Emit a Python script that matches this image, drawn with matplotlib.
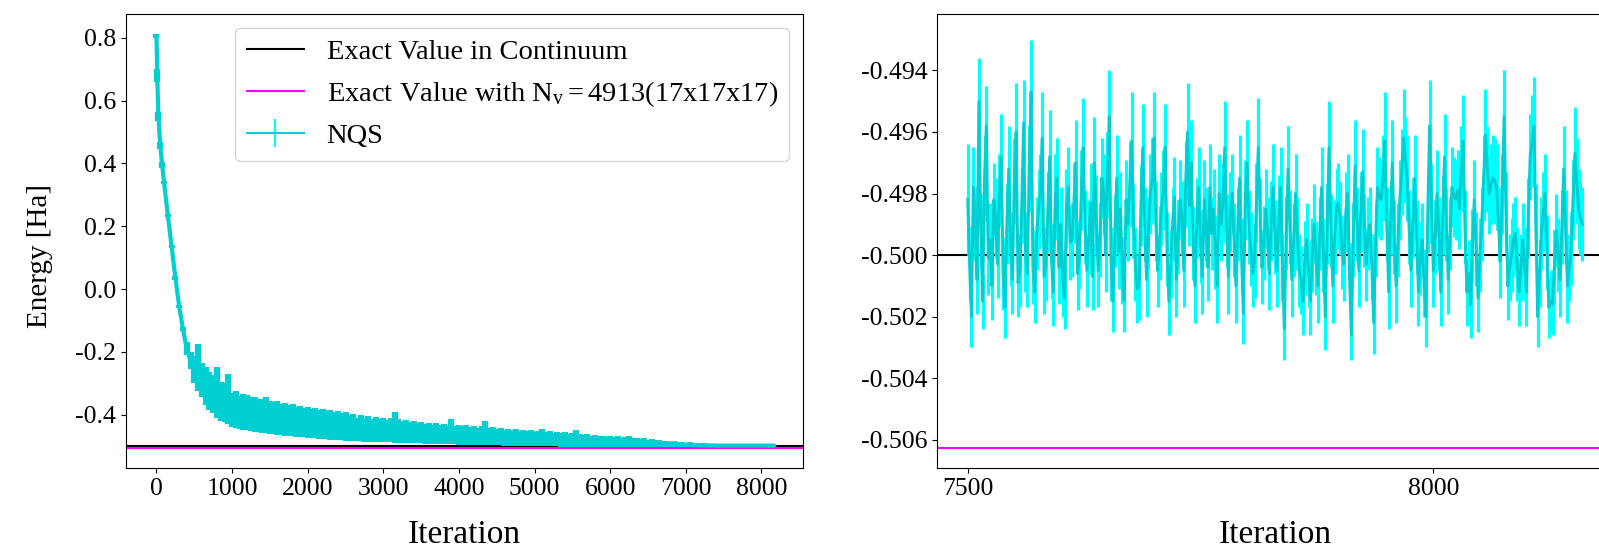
import numpy as np
import matplotlib
matplotlib.use('Agg')
import matplotlib.pyplot as plt
from matplotlib.ticker import FormatStrFormatter

plt.rcParams['font.family'] = ['Liberation Serif', 'DejaVu Serif']
plt.rcParams['mathtext.fontset'] = 'custom'
plt.rcParams['mathtext.rm'] = 'Liberation Serif'
plt.rcParams['mathtext.it'] = 'Liberation Serif:italic'
plt.rcParams['axes.unicode_minus'] = False

# exact reference energies
e_continuum = -0.5
e_grid = -0.50626

# left panel: NQS energy band (upper / lower edge) over the whole run
left_iter = [0, 10, 25, 50, 75] + list(range(100, 8151, 50))
left_upper = [
    0.812, 0.700, 0.565, 0.470, 0.405,
    0.345, 0.240, 0.140, 0.040, -0.050, -0.120, -0.170, -0.200,
    -0.215, -0.175, -0.235, -0.250, -0.265, -0.275, -0.250, -0.295, -0.300, -0.270,
    -0.330, -0.325, -0.340, -0.335, -0.338, -0.345, -0.345, -0.350, -0.352, -0.345,
    -0.358, -0.360, -0.358, -0.365, -0.362, -0.370, -0.368, -0.375, -0.372, -0.380,
    -0.376, -0.382, -0.378, -0.385, -0.383, -0.388, -0.385, -0.392, -0.390, -0.395,
    -0.393, -0.400, -0.398, -0.410, -0.403, -0.412, -0.405, -0.413, -0.408, -0.415,
    -0.410, -0.418, -0.412, -0.392, -0.415, -0.422, -0.418, -0.425, -0.420, -0.428,
    -0.424, -0.430, -0.426, -0.432, -0.428, -0.434, -0.430, -0.435, -0.413, -0.436,
    -0.432, -0.438, -0.434, -0.440, -0.436, -0.442, -0.438, -0.422, -0.444, -0.440,
    -0.446, -0.443, -0.448, -0.445, -0.450, -0.447, -0.452, -0.449, -0.453, -0.450,
    -0.455, -0.452, -0.447, -0.456, -0.453, -0.458, -0.455, -0.460, -0.457, -0.462,
    -0.458, -0.450, -0.462, -0.465, -0.463, -0.467, -0.465, -0.469, -0.467, -0.471,
    -0.468, -0.472, -0.470, -0.474, -0.471, -0.468, -0.476, -0.474, -0.478, -0.476,
    -0.480, -0.478, -0.482, -0.480, -0.484, -0.483, -0.486, -0.485, -0.488, -0.487,
    -0.490, -0.489, -0.491, -0.490, -0.492, -0.492, -0.493, -0.493, -0.494, -0.494,
    -0.495, -0.494, -0.495, -0.494, -0.495, -0.494, -0.495, -0.494, -0.495, -0.494,
    -0.495, -0.494, -0.495, -0.495,
]
left_lower = [
    0.800, 0.660, 0.535, 0.445, 0.385,
    0.335, 0.230, 0.130, 0.030, -0.060, -0.135, -0.210, -0.255,
    -0.300, -0.325, -0.345, -0.370, -0.385, -0.395, -0.410, -0.420, -0.425, -0.430,
    -0.440, -0.442, -0.445, -0.448, -0.450, -0.452, -0.455, -0.457, -0.458, -0.460,
    -0.462, -0.463, -0.464, -0.465, -0.467, -0.468, -0.470, -0.471, -0.472, -0.473,
    -0.474, -0.475, -0.476, -0.477, -0.478, -0.479, -0.480, -0.481, -0.482, -0.482,
    -0.483, -0.484, -0.484, -0.485, -0.485, -0.486, -0.486, -0.487, -0.487, -0.488,
    -0.488, -0.489, -0.489, -0.490, -0.490, -0.490, -0.491, -0.491, -0.492, -0.492,
    -0.492, -0.493, -0.493, -0.493, -0.494, -0.494, -0.494, -0.495, -0.495, -0.495,
    -0.496, -0.496, -0.496, -0.496, -0.497, -0.497, -0.497, -0.497, -0.498, -0.498,
    -0.498, -0.498, -0.499, -0.499, -0.499, -0.499, -0.499, -0.500, -0.500, -0.500,
    -0.500, -0.500, -0.501, -0.501, -0.501, -0.501, -0.501, -0.502, -0.502, -0.502,
    -0.502, -0.502, -0.503, -0.503, -0.503, -0.503, -0.503, -0.503, -0.503, -0.504,
    -0.504, -0.504, -0.504, -0.504, -0.504, -0.504, -0.504, -0.505, -0.505, -0.505,
    -0.505, -0.505, -0.505, -0.505, -0.505, -0.504, -0.504, -0.504, -0.504, -0.504,
    -0.504, -0.504, -0.504, -0.504, -0.504, -0.504, -0.504, -0.504, -0.504, -0.504,
    -0.503, -0.504, -0.503, -0.504, -0.503, -0.504, -0.503, -0.504, -0.503, -0.504,
    -0.503, -0.504, -0.503, -0.503,
]

# right panel: last iterations, mean energy and its error
# even samples at 7500, 7504, ..., 8160 ; odd samples at 7502, 7506, ..., 8158
right_iter = list(range(7500, 8161, 2))
right_mean_even = [
    -0.4982, -0.5020, -0.4990, -0.4950, -0.5015, -0.4958, -0.4995, -0.4982, -0.5003, -0.4968,
    -0.5017, -0.4972, -0.5008, -0.4960, -0.5005, -0.4957, -0.5006, -0.4947, -0.5012, -0.4985,
    -0.4962, -0.5003, -0.4968, -0.5012, -0.4975, -0.4990, -0.5014, -0.4978, -0.4995, -0.4970,
    -0.5000, -0.4965, -0.5005, -0.4983, -0.4970, -0.5005, -0.4975, -0.5000, -0.4955, -0.5015,
    -0.4975, -0.4985, -0.5015, -0.4990, -0.4963, -0.5003, -0.5010, -0.4965, -0.5008, -0.4980,
    -0.4962, -0.5005, -0.4985, -0.4965, -0.5015, -0.4990, -0.5008, -0.4982, -0.5005, -0.4960,
    -0.4970, -0.5010, -0.4978, -0.5007, -0.4990, -0.4978, -0.4985, -0.5010, -0.4990, -0.4965,
    -0.5007, -0.4980, -0.5010, -0.4975, -0.5019, -0.4970, -0.4998, -0.5002, -0.4965, -0.5004,
    -0.4985, -0.5006, -0.4978, -0.5005, -0.4978, -0.5024, -0.4972, -0.5008, -0.4980, -0.5005,
    -0.5015, -0.4995, -0.5015, -0.4990, -0.5010, -0.4978, -0.5020, -0.4965, -0.5010, -0.4985,
    -0.4988, -0.5003, -0.4980, -0.5026, -0.4971, -0.5005, -0.4973, -0.5003, -0.4990, -0.5022,
    -0.4978, -0.4982, -0.4963, -0.5012, -0.4970, -0.5010, -0.4982, -0.4962, -0.4975, -0.5005,
    -0.4975, -0.5012, -0.4995, -0.5020, -0.4958, -0.5005, -0.4980, -0.5012, -0.4968, -0.5008,
    -0.4978, -0.4982, -0.4985, -0.4963, -0.5012, -0.5016, -0.4982, -0.5014, -0.4990, -0.4961,
    -0.4980, -0.4975, -0.4978, -0.5002, -0.4955, -0.5010, -0.5000, -0.4993, -0.5012, -0.4995,
    -0.5012, -0.4968, -0.4958, -0.5020, -0.4993, -0.4980, -0.5017, -0.5016, -0.4992, -0.5008,
    -0.4972, -0.5010, -0.4998, -0.4967, -0.4985, -0.4990,
]
right_mean_odd = [
    -0.5003, -0.4978, -0.5008, -0.4992, -0.4975, -0.5001, -0.5010, -0.4988, -0.4979, -0.5006,
    -0.4990, -0.4998, -0.4976, -0.5009, -0.4984, -0.4999, -0.4972, -0.5004, -0.4993, -0.4980,
    -0.5007, -0.4986, -0.5002, -0.4981, -0.5004, -0.5009, -0.4985, -0.4996, -0.4983, -0.5006,
    -0.4979, -0.4991, -0.4994, -0.5007, -0.4987, -0.4995, -0.4980, -0.4974, -0.5003, -0.4992,
    -0.4999, -0.5005, -0.4982, -0.4977, -0.4989, -0.5011, -0.4984, -0.4990, -0.4993, -0.4976,
    -0.4989, -0.4996, -0.4979, -0.4998, -0.5003, -0.4981, -0.4994, -0.4988, -0.4977, -0.4984,
    -0.4996, -0.4988, -0.4997, -0.4982, -0.5004, -0.4993, -0.4999, -0.4980, -0.4983, -0.4992,
    -0.4986, -0.4995, -0.4990, -0.5000, -0.4982, -0.4991, -0.5006, -0.4983, -0.4987, -0.4996,
    -0.4993, -0.4989, -0.4994, -0.4987, -0.5004, -0.4993, -0.4991, -0.4995, -0.4993, -0.5008,
    -0.5001, -0.5006, -0.5000, -0.5001, -0.4993, -0.5000, -0.4990, -0.4992, -0.4994, -0.4983,
    -0.4999, -0.4986, -0.5007, -0.4995, -0.4990, -0.4986, -0.4992, -0.4993, -0.5004, -0.4995,
    -0.4981, -0.4975, -0.4990, -0.4988, -0.4994, -0.4995, -0.4973, -0.4969, -0.4991, -0.4988,
    -0.4994, -0.5001, -0.5009, -0.4987, -0.4983, -0.4994, -0.4993, -0.4987, -0.4990, -0.4993,
    -0.4981, -0.4979, -0.4972, -0.4991, -0.5006, -0.4997, -0.4998, -0.5000, -0.4975, -0.4972,
    -0.4977, -0.4976, -0.4990, -0.4980, -0.4986, -0.5004, -0.4995, -0.5003, -0.5004, -0.5003,
    -0.4988, -0.4963, -0.4989, -0.5006, -0.4986, -0.4999, -0.5015, -0.5004, -0.5000, -0.4991,
    -0.4991, -0.5004, -0.4982, -0.4976, -0.4988,
]
right_err_even = [
    .0018, .0010, .0012, .0014, .0009, .0013, .0012, .0012, .0011, .0014,
    .0010, .0014, .0011, .0016, .0012, .0014, .0011, .0017, .0010, .0013,
    .0015, .0012, .0015, .0011, .0013, .0012, .0010, .0013, .0012, .0014,
    .0011, .0016, .0012, .0013, .0015, .0012, .0013, .0012, .0015, .0010,
    .0014, .0012, .0010, .0012, .0016, .0012, .0011, .0014, .0012, .0013,
    .0015, .0012, .0012, .0014, .0011, .0012, .0012, .0013, .0012, .0016,
    .0014, .0012, .0013, .0012, .0012, .0014, .0013, .0012, .0012, .0015,
    .0012, .0013, .0012, .0014, .0010, .0014, .0012, .0012, .0016, .0012,
    .0013, .0012, .0014, .0012, .0013, .0010, .0014, .0012, .0013, .0012,
    .0011, .0012, .0011, .0013, .0012, .0013, .0011, .0015, .0012, .0013,
    .0012, .0012, .0013, .0008, .0015, .0012, .0014, .0012, .0012, .0010,
    .0013, .0013, .0016, .0012, .0014, .0012, .0013, .0016, .0014, .0012,
    .0014, .0011, .0012, .0010, .0015, .0012, .0014, .0011, .0014, .0011,
    .0013, .0013, .0013, .0015, .0011, .0011, .0013, .0011, .0012, .0015,
    .0013, .0014, .0014, .0012, .0015, .0011, .0012, .0012, .0011, .0012,
    .0011, .0014, .0016, .0010, .0012, .0013, .0010, .0010, .0012, .0012,
    .0014, .0012, .0012, .0015, .0013, .0012,
]
right_err_odd = [
    .0012, .0013, .0011, .0012, .0014, .0012, .0011, .0013, .0012, .0012,
    .0013, .0012, .0014, .0011, .0012, .0013, .0014, .0012, .0012, .0013,
    .0012, .0013, .0012, .0014, .0012, .0011, .0013, .0012, .0013, .0012,
    .0013, .0012, .0012, .0011, .0013, .0012, .0013, .0014, .0012, .0012,
    .0012, .0011, .0013, .0014, .0012, .0011, .0013, .0012, .0012, .0014,
    .0013, .0012, .0013, .0012, .0011, .0013, .0012, .0012, .0014, .0013,
    .0012, .0013, .0012, .0013, .0011, .0012, .0012, .0013, .0013, .0012,
    .0013, .0012, .0012, .0012, .0013, .0012, .0011, .0013, .0012, .0012,
    .0012, .0013, .0012, .0013, .0011, .0012, .0012, .0012, .0012, .0011,
    .0012, .0011, .0012, .0012, .0012, .0012, .0013, .0012, .0012, .0013,
    .0012, .0013, .0011, .0012, .0012, .0013, .0012, .0012, .0011, .0012,
    .0013, .0014, .0012, .0012, .0012, .0012, .0014, .0014, .0012, .0013,
    .0012, .0012, .0011, .0012, .0013, .0012, .0012, .0013, .0012, .0012,
    .0013, .0013, .0014, .0012, .0011, .0012, .0012, .0012, .0014, .0014,
    .0013, .0014, .0012, .0013, .0013, .0011, .0012, .0012, .0011, .0012,
    .0013, .0015, .0012, .0011, .0013, .0012, .0010, .0012, .0012, .0012,
    .0012, .0011, .0013, .0014, .0012,
]

label_cont = 'Exact Value in Continuum'
label_grid = r'Exact Value with $\mathrm{N_v = 4913(17x17x17)}$'

fig = plt.figure(figsize=(15.99, 5.49), dpi=100)
ax1 = fig.add_axes([0.0786, 0.1475, 0.4239, 0.8279])
ax2 = fig.add_axes([0.586, 0.1475, 0.4228, 0.8279])

up = np.array(left_upper)
lo = np.array(left_lower)
mid = (up + lo) / 2
half = (up - lo) / 2

ax1.axhline(e_continuum, color='black', lw=1.5, label=label_cont)
ax1.axhline(e_grid, color='magenta', lw=1.5, label=label_grid)
ax1.errorbar(left_iter, mid, yerr=half, color='darkturquoise', ecolor='darkturquoise',
             lw=3, elinewidth=4.5, label='_nolegend_')
ax1.errorbar([np.nan], [np.nan], yerr=[np.nan], color='darkturquoise', ecolor='cyan',
             lw=1.5, label='NQS')
ax1.set_xlim(-407.5, 8557.5)
ax1.set_ylim(-0.5705, 0.878)
ax1.set_xticks(range(0, 8001, 1000))
ax1.set_yticks([-0.4, -0.2, 0.0, 0.2, 0.4, 0.6, 0.8])
ax1.yaxis.set_major_formatter(FormatStrFormatter('%.1f'))
ax1.set_xlabel('Iteration', fontsize=24, labelpad=14)
ax1.set_ylabel('Energy [Ha]', fontsize=21)
ax1.yaxis.set_label_coords(-0.107, 0.466)
ax1.tick_params(labelsize=18.5)
ax1.legend(loc='upper right', fontsize=20.5)

# interleave the two sample sets in iteration order
r_mean = np.empty(len(right_iter))
r_mean[0::2] = right_mean_even
r_mean[1::2] = right_mean_odd
r_err = np.empty(len(right_iter))
r_err[0::2] = right_err_even
r_err[1::2] = right_err_odd

ax2.axhline(e_continuum, color='black', lw=1.5)
ax2.axhline(e_grid, color='magenta', lw=1.5)
ax2.errorbar(right_iter, r_mean, yerr=r_err, color='darkturquoise', ecolor='cyan',
             lw=2.1, elinewidth=2.3)
ax2.set_xlim(7467, 8193)
ax2.set_ylim(-0.50692, -0.49215)
ax2.set_xticks([7500, 8000])
ax2.set_yticks([-0.506, -0.504, -0.502, -0.500, -0.498, -0.496, -0.494])
ax2.yaxis.set_major_formatter(FormatStrFormatter('%.3f'))
ax2.set_xlabel('Iteration', fontsize=24, labelpad=14)
ax2.tick_params(labelsize=18.5)

fig.savefig('out.png', dpi=100)
